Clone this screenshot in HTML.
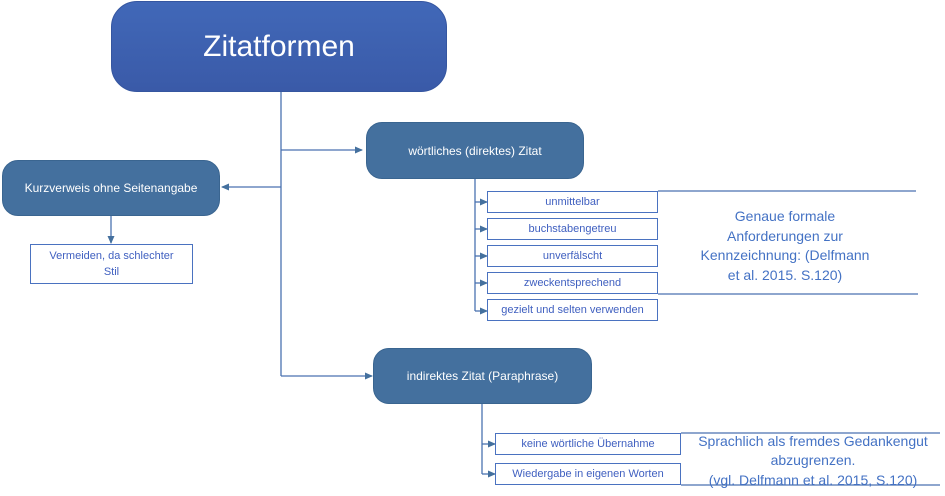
<!DOCTYPE html>
<html><head><meta charset="utf-8"><style>
body{margin:0;width:945px;height:496px;background:#fff;position:relative;overflow:hidden;font-family:"Liberation Sans",sans-serif}
.a{position:absolute;box-sizing:border-box;display:flex;align-items:center;justify-content:center;text-align:center}
.n{background:#44709e;color:#fff;border-radius:16px;font-size:12px;border:1px solid #3a6590}
.b{border:1px solid #4a72c0;color:#4060c0;font-size:11px;background:#fff}
.t{color:#4472c4;font-size:14px;line-height:19.5px}
</style></head><body>
<svg width="945" height="496" style="position:absolute;left:0;top:0">
<defs><marker id="m" markerWidth="8" markerHeight="8" refX="7" refY="4" orient="auto" markerUnits="userSpaceOnUse"><path d="M0,0.5 L8,4 L0,7.5z" fill="#44709e"/></marker></defs>
<g stroke="#4a72b0" stroke-width="1.3" fill="none">
<path d="M281,92 V376"/>
<path d="M281,150 H362" marker-end="url(#m)"/>
<path d="M281,187 H222" marker-end="url(#m)"/>
<path d="M281,376 H372" marker-end="url(#m)"/>
<path d="M111,216 V243" marker-end="url(#m)"/>
<path d="M475,179 V311"/>
<path d="M475,202 H487" marker-end="url(#m)"/>
<path d="M475,229 H487" marker-end="url(#m)"/>
<path d="M475,256 H487" marker-end="url(#m)"/>
<path d="M475,283 H487" marker-end="url(#m)"/>
<path d="M475,311 H487" marker-end="url(#m)"/>
<path d="M482,404 V474"/>
<path d="M482,444 H495" marker-end="url(#m)"/>
<path d="M482,474 H495" marker-end="url(#m)"/>
<path d="M658,191 H916"/>
<path d="M658,294 H918"/>
<path d="M681,433 H940"/>
<path d="M681,485 H940"/>
</g></svg>
<div class="a" style="left:111px;top:1px;width:336px;height:91px;border-radius:26px;background:linear-gradient(#4168b8,#3a5aa8);border:1px solid #3556a0;color:#fff;font-size:30px">Zitatformen</div>
<div class="a n" style="left:366px;top:122px;width:218px;height:57px">wörtliches (direktes) Zitat</div>
<div class="a n" style="left:2px;top:160px;width:218px;height:56px">Kurzverweis ohne Seitenangabe</div>
<div class="a n" style="left:373px;top:348px;width:219px;height:56px">indirektes Zitat (Paraphrase)</div>
<div class="a b" style="left:30px;top:244px;width:163px;height:40px;line-height:16px">Vermeiden, da schlechter<br>Stil</div>
<div class="a b" style="left:487px;top:191px;width:171px;height:22px">unmittelbar</div>
<div class="a b" style="left:487px;top:218px;width:171px;height:22px">buchstabengetreu</div>
<div class="a b" style="left:487px;top:245px;width:171px;height:22px">unverfälscht</div>
<div class="a b" style="left:487px;top:272px;width:171px;height:22px">zweckentsprechend</div>
<div class="a b" style="left:487px;top:299px;width:171px;height:22px">gezielt und selten verwenden</div>
<div class="a b" style="left:495px;top:433px;width:186px;height:22px">keine wörtliche Übernahme</div>
<div class="a b" style="left:495px;top:463px;width:186px;height:22px">Wiedergabe in eigenen Worten</div>
<div class="a t" style="left:680px;top:206px;width:210px;height:80px">Genaue formale<br>Anforderungen zur<br>Kennzeichnung: (Delfmann<br>et al. 2015. S.120)</div>
<div class="a t" style="left:683px;top:432px;width:260px;height:58px">Sprachlich als fremdes Gedankengut<br>abzugrenzen.<br>(vgl. Delfmann et al. 2015, S.120)</div>
</body></html>
